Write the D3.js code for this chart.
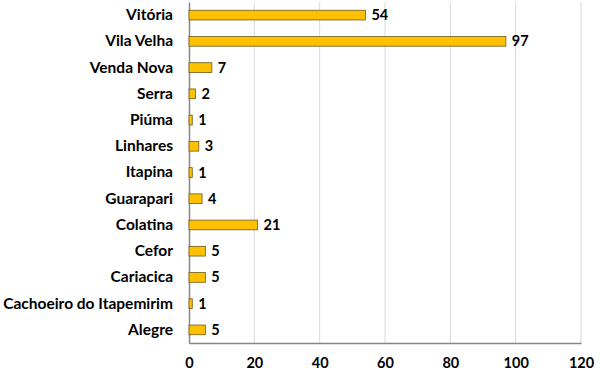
<!DOCTYPE html>
<html>
<head>
<meta charset="utf-8">
<script src="https://cdn.jsdelivr.net/npm/d3@7"></script>
<style>
  body { margin: 0; background: #fff; }
  #chart { width: 600px; height: 377px; }
  text { font-family: Lato, "Open Sans", sans-serif; font-weight: bold; fill: #000; }
</style>
</head>
<body>
<div id="chart"></div>
<script>
//Datos
const cidades = ['Vitória', 'Vila Velha', 'Venda Nova', 'Serra', 'Piúma', 'Linhares', 'Itapina',
    'Guarapari', 'Colatina', 'Cefor', 'Cariacica', 'Cachoeiro do Itapemirim', 'Alegre'];
const valores = [54, 97, 7, 2, 1, 3, 1, 4, 21, 5, 5, 1, 5];
const ticksX = [0, 20, 40, 60, 80, 100, 120];

const data = cidades.map(function(c, i) { return { cidade: c, valor: valores[i] }; });

let margin = {top: 2, right: 19, bottom: 34, left: 189},
    width = 600 - margin.left - margin.right,
    height = 377 - margin.top - margin.bottom;

let svg = d3.select('#chart')
    .append('svg')
        .attr('width', 600)
        .attr('height', 377)
    .append('g')
        .attr('transform', 'translate(' + margin.left + ',' + margin.top + ')');

let x = d3.scaleLinear()
    .domain([0, 120])
    .range([0, width]);

let y = d3.scaleBand()
    .domain(cidades)
    .range([0, height])
    .paddingInner(0.63)
    .paddingOuter(0.315);

//Grid
svg.append('g')
    .selectAll('line')
    .data(ticksX.slice(1))
    .enter()
    .append('line')
    .attr('x1', function(d) { return x(d); })
    .attr('x2', function(d) { return x(d); })
    .attr('y1', 0)
    .attr('y2', height)
    .attr('stroke', '#d9d9d9')
    .attr('stroke-width', 1);

//Eje X
let xAxis = function(g) {
    g.call(d3.axisBottom(x).tickValues(ticksX).tickSize(0).tickPadding(15));
    g.call(function(g) { g.select('.domain').attr('stroke', '#868686').attr('stroke-width', 1.5); });
    g.selectAll('text').style('font-size', '14.5px');
}
svg.append('g')
    .attr('transform', 'translate(0,' + height + ')')
    .call(xAxis);

//Eje Y
let yAxis = function(g) {
    g.call(d3.axisLeft(y).tickSize(0).tickPadding(16));
    g.call(function(g) { g.select('.domain').attr('stroke', '#868686').attr('stroke-width', 1.5); });
    g.selectAll('text').style('font-size', '15.5px');
}
svg.append('g').call(yAxis);

//Barras
svg.selectAll('.bar')
    .data(data)
    .enter()
    .append('rect')
    .attr('class', 'bar')
    .attr('x', x(0))
    .attr('y', function(d) { return y(d.cidade); })
    .attr('width', function(d) { return x(d.valor) - x(0); })
    .attr('height', y.bandwidth())
    .attr('fill', '#ffc000')
    .attr('stroke', '#6b5a1e')
    .attr('stroke-width', 0.8);

//Etiquetas
svg.selectAll('.label')
    .data(data)
    .enter()
    .append('text')
    .attr('class', 'label')
    .attr('x', function(d) { return x(d.valor) + 6; })
    .attr('y', function(d) { return y(d.cidade) + y.bandwidth() / 2; })
    .attr('dy', '0.35em')
    .style('font-size', '14.5px')
    .text(function(d) { return d.valor; });
</script>
</body>
</html>
